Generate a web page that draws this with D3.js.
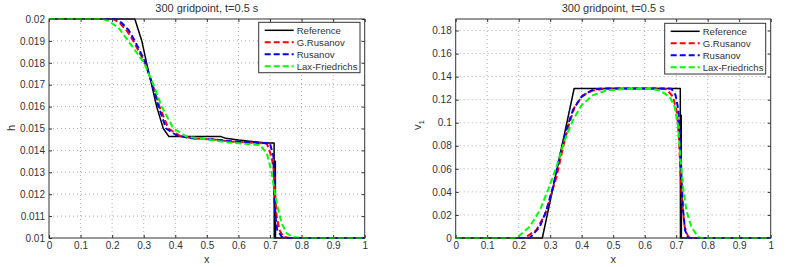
<!DOCTYPE html>
<html>
<head>
<meta charset="utf-8">
<script src="https://cdn.jsdelivr.net/npm/d3@7"></script>
<style>
  html, body { margin: 0; padding: 0; background: #fff; }
  svg { display: block; }
  text { font-family: "Liberation Sans", Arial, sans-serif; fill: #333; }
</style>
</head>
<body>
<svg id="chart" width="786" height="267"></svg>
<script>
// ---------- data ----------
const seriesNames = ["Reference", "G.Rusanov", "Rusanov", "Lax-Friedrichs"];
const xTicks = [0, 0.1, 0.2, 0.3, 0.4, 0.5, 0.6, 0.7, 0.8, 0.9, 1];
const hTicks = [0.01, 0.011, 0.012, 0.013, 0.014, 0.015, 0.016, 0.017, 0.018, 0.019, 0.02];
const vTicks = [0, 0.02, 0.04, 0.06, 0.08, 0.1, 0.12, 0.14, 0.16, 0.18];
const titleText = "300 gridpoint, t=0.5 s";

// left panel: water depth h
const hReference = [[0,0.02],[0.272,0.02],[0.283,0.0195],[0.294,0.019],[0.309,0.018],[0.325,0.017],[0.341,0.016],[0.362,0.015],[0.380,0.01463],[0.545,0.01463],[0.56,0.01455],[0.60,0.01447],[0.65,0.0144],[0.69,0.01434],[0.713,0.01434],[0.7135,0.01],[0.7165,0.01],[0.717,0.0135],[0.7175,0.01],[1,0.01]];
const hGRusanov = [[0,0.02],[0.204,0.02],[0.225,0.0198],[0.245,0.0195],[0.267,0.019],[0.304,0.018],[0.328,0.017],[0.350,0.016],[0.378,0.015],[0.415,0.01466],[0.457,0.01455],[0.52,0.0145],[0.58,0.0144],[0.65,0.01434],[0.69,0.01432],[0.705,0.01371],[0.713,0.0130],[0.716,0.0120],[0.721,0.0110],[0.730,0.01037],[0.742,0.01006],[0.763,0.01],[1,0.01]];
const hRusanov = [[0,0.02],[0.214,0.02],[0.232,0.0198],[0.252,0.0195],[0.272,0.019],[0.306,0.018],[0.327,0.017],[0.347,0.016],[0.371,0.015],[0.405,0.01468],[0.45,0.01456],[0.52,0.0145],[0.58,0.01441],[0.65,0.01436],[0.70,0.01432],[0.711,0.01371],[0.713,0.0120],[0.717,0.0110],[0.723,0.01037],[0.737,0.01006],[0.753,0.01],[1,0.01]];
const hLaxFriedrichs = [[0,0.02],[0.17,0.02],[0.19,0.0199],[0.22,0.0196],[0.251,0.019],[0.301,0.018],[0.331,0.017],[0.357,0.016],[0.394,0.015],[0.436,0.01463],[0.50,0.0145],[0.56,0.01438],[0.62,0.0143],[0.668,0.01425],[0.690,0.01387],[0.705,0.0130],[0.716,0.0120],[0.726,0.01128],[0.737,0.01067],[0.753,0.01021],[0.774,0.01003],[0.827,0.01],[1,0.01]];

// right panel: velocity v1
const vReference = [[0,0],[0.275,0],[0.376,0.1297],[0.713,0.1297],[0.7135,0],[0.7155,0],[0.716,0.1066],[0.7165,0],[1,0]];
const vGRusanov = [[0,0],[0.219,0],[0.256,0.0069],[0.283,0.02],[0.298,0.033],[0.320,0.053],[0.341,0.079],[0.360,0.099],[0.378,0.114],[0.404,0.124],[0.436,0.128],[0.478,0.1297],[0.65,0.1297],[0.669,0.129],[0.690,0.1225],[0.703,0.108],[0.709,0.085],[0.714,0.053],[0.720,0.027],[0.727,0.0098],[0.738,0.001],[0.748,0],[1,0]];
const vRusanov = [[0,0],[0.235,0],[0.267,0.0098],[0.288,0.024],[0.309,0.0445],[0.330,0.0705],[0.351,0.0936],[0.372,0.111],[0.399,0.1225],[0.436,0.1289],[0.468,0.1297],[0.67,0.1297],[0.685,0.1294],[0.698,0.124],[0.707,0.111],[0.713,0.085],[0.717,0.05],[0.722,0.024],[0.728,0.0069],[0.738,0],[1,0]];
const vLaxFriedrichs = [[0,0],[0.193,0],[0.235,0.0098],[0.267,0.024],[0.293,0.0416],[0.320,0.0618],[0.346,0.085],[0.372,0.102],[0.399,0.115],[0.436,0.124],[0.478,0.128],[0.542,0.1295],[0.62,0.1295],[0.648,0.128],[0.679,0.1225],[0.695,0.114],[0.706,0.0965],[0.713,0.0705],[0.722,0.0445],[0.732,0.024],[0.748,0.0098],[0.769,0.001],[0.78,0],[1,0]];

// ---------- drawing ----------
const colors = ["#000000", "#ff0000", "#0000ff", "#00ff00"];
const svg = d3.select("#chart");

function panel(opts) {
  const {left, right, top, bottom, yDomain, yTicks, yFmt, series, legend, ylabel, sub, id} = opts;
  const x = d3.scaleLinear().domain([0, 1]).range([left, right]);
  const y = d3.scaleLinear().domain(yDomain).range([bottom, top]);
  const g = svg.append("g");

  g.append("rect").attr("x", left).attr("y", top).attr("width", right - left).attr("height", bottom - top).attr("fill", "#fff");

  // grid
  const grid = g.append("g").attr("stroke", "#9a9a9a").attr("stroke-width", 0.8).attr("stroke-dasharray", "1,3");
  xTicks.slice(1, -1).forEach(t => grid.append("line").attr("x1", x(t)).attr("x2", x(t)).attr("y1", top).attr("y2", bottom));
  yTicks.filter(t => y(t) > top + 1 && y(t) < bottom - 1).forEach(t => grid.append("line").attr("x1", left).attr("x2", right).attr("y1", y(t)).attr("y2", y(t)));

  // axes (ticks inward, MATLAB style)
  const ax = d3.axisBottom(x).tickValues(xTicks).tickSize(-3).tickPadding(4).tickFormat(d3.format("~g"));
  const axT = d3.axisTop(x).tickValues(xTicks).tickSize(-3).tickFormat("");
  const ay = d3.axisLeft(y).tickValues(yTicks).tickSize(-3).tickPadding(4).tickFormat(yFmt);
  const ayR = d3.axisRight(y).tickValues(yTicks).tickSize(-3).tickFormat("");
  const styleAxis = sel => {
    sel.select(".domain").remove();
    sel.selectAll(".tick line").attr("stroke", "#333");
    sel.selectAll("text").attr("font-size", 10).attr("fill", "#333").attr("font-family", "Liberation Sans, Arial, sans-serif");
  };
  g.append("g").attr("transform", `translate(0,${bottom})`).call(ax).call(styleAxis);
  g.append("g").attr("transform", `translate(0,${top})`).call(axT).call(styleAxis);
  g.append("g").attr("transform", `translate(${left},0)`).call(ay).call(styleAxis);
  g.append("g").attr("transform", `translate(${right},0)`).call(ayR).call(styleAxis);

  // clip
  svg.append("clipPath").attr("id", id).append("rect").attr("x", left).attr("y", top - 1).attr("width", right - left).attr("height", bottom - top + 2);

  const line = d3.line().x(d => x(d[0])).y(d => y(d[1]));
  const lines = g.append("g").attr("clip-path", `url(#${id})`);
  series.forEach((s, i) => {
    lines.append("path").datum(s).attr("d", line).attr("fill", "none")
      .attr("stroke", colors[i]).attr("stroke-width", i === 0 ? 1.5 : 2)
      .attr("stroke-dasharray", i === 0 ? null : "6,3")
      .attr("stroke-linejoin", "round");
  });

  // box
  g.append("rect").attr("x", left).attr("y", top).attr("width", right - left).attr("height", bottom - top)
    .attr("fill", "none").attr("stroke", "#333").attr("stroke-width", 1);

  // title and labels
  g.append("text").attr("x", (left + right) / 2).attr("y", 12).attr("text-anchor", "middle").attr("font-size", 11).text(titleText);
  g.append("text").attr("x", (left + right) / 2).attr("y", 263).attr("text-anchor", "middle").attr("font-size", 11).text("x");
  const yl = g.append("text").attr("transform", `translate(${ylabel.x},${ylabel.y}) rotate(-90)`).attr("text-anchor", "middle").attr("font-size", 11);
  yl.append("tspan").text(ylabel.text);
  if (sub) yl.append("tspan").attr("font-size", 8).attr("dy", 3).text(sub);

  // legend
  const L = legend;
  g.append("rect").attr("x", L.x).attr("y", L.y).attr("width", L.w).attr("height", L.h).attr("fill", "#fff").attr("stroke", "#333").attr("stroke-width", 1);
  seriesNames.forEach((name, i) => {
    const yy = L.y + 8 + i * 12;
    g.append("line").attr("x1", L.x + 6).attr("x2", L.x + 35).attr("y1", yy).attr("y2", yy)
      .attr("stroke", colors[i]).attr("stroke-width", i === 0 ? 1.5 : 2).attr("stroke-dasharray", i === 0 ? null : "6,3");
    g.append("text").attr("x", L.x + 38).attr("y", yy + 3.5).attr("font-size", 9.6).text(name);
  });
}

panel({
  id: "clipL", left: 49, right: 364.7, top: 19, bottom: 238,
  yDomain: [0.01, 0.02], yTicks: hTicks, yFmt: d3.format("~g"),
  series: [hReference, hGRusanov, hRusanov, hLaxFriedrichs],
  legend: {x: 258.7, y: 22.3, w: 101.3, h: 50.4},
  ylabel: {x: 15, y: 128, text: "h"}, sub: null
});
panel({
  id: "clipR", left: 455.7, right: 770.7, top: 19, bottom: 238,
  yDomain: [0, 0.19], yTicks: vTicks, yFmt: d3.format("~g"),
  series: [vReference, vGRusanov, vRusanov, vLaxFriedrichs],
  legend: {x: 664.7, y: 23.3, w: 101, h: 50.7},
  ylabel: {x: 421, y: 125, text: "v"}, sub: "1"
});
</script>
</body>
</html>
